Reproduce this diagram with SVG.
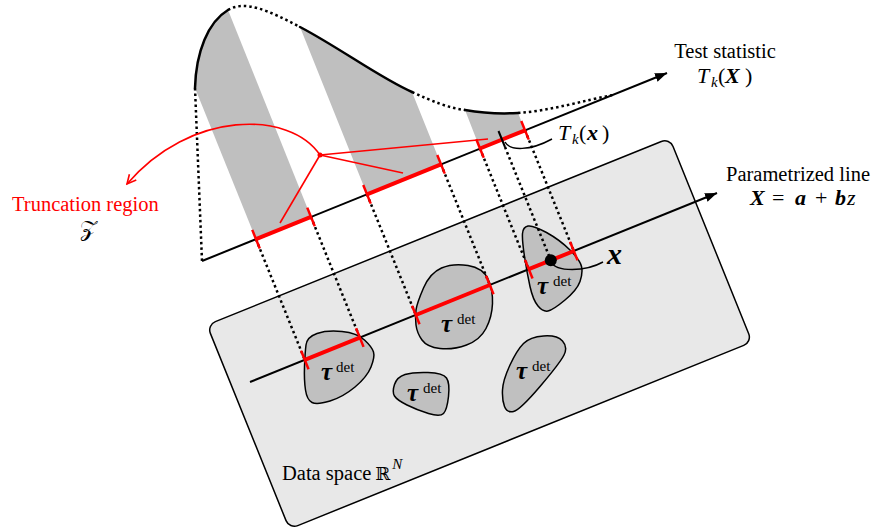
<svg xmlns="http://www.w3.org/2000/svg" width="883" height="531" viewBox="0 0 883 531" font-family="Liberation Serif, Times New Roman, serif">
<defs>
<style>
text, tspan{font-family:'Liberation Serif','Times New Roman','DejaVu Serif',serif;fill:#000}
.lbl{font-size:20.5px}
.m{font-size:22px}
.mi{font-style:italic}
.bi{font-style:italic;font-weight:bold}
.sub{font-size:15px;font-style:italic}
.red{fill:#ff0000}
.blob{fill:#c0c0c0;stroke:#000;stroke-width:1.5}
.band{fill:#bfbfbf;stroke:none}
.solid{fill:none;stroke:#000;stroke-width:2.5;stroke-linecap:round}
.dot{fill:none;stroke:#000;stroke-width:2.5;stroke-dasharray:2.5 3}
.axis{stroke:#000;stroke-width:2;fill:none}
.rseg{stroke:#ff0000;stroke-width:4}
.rtick{stroke:#ff0000;stroke-width:2.5}
.rline{stroke:#ff0000;stroke-width:1.6;fill:none}
.tau{font-size:25px;font-style:italic;font-weight:bold}
.det{font-size:15px}
</style>
<marker id="arr" markerUnits="userSpaceOnUse" markerWidth="14" markerHeight="10" refX="12" refY="4.5" orient="auto" viewBox="0 0 14 10"><path d="M0,0 L12,4.5 L0,9 Z" fill="#000"/></marker>
<marker id="rarr" markerUnits="userSpaceOnUse" markerWidth="12" markerHeight="12" refX="10" refY="5" orient="auto" viewBox="0 0 12 10"><path d="M1,0.5 L10,5 L1,9.5" fill="none" stroke="#ff0000" stroke-width="1.6"/></marker>
</defs>

<g id="data-space">
<rect x="0" y="0" width="499" height="220" rx="9" transform="translate(207,325) rotate(-22)" fill="#e8e8e8" stroke="#000" stroke-width="1.5"/>
<text class="lbl" x="282" y="480">Data space<tspan dx="4" style="font-family:'DejaVu Serif',serif" font-size="18px">ℝ</tspan><tspan dx="2" dy="-11" class="mi" font-size="15px">N</tspan></text>
</g>

<g id="blob-1">
<path class="blob" d="M317,333.5 Q327,330 342,331.5 Q357,333 364.5,340 Q372,347 373.5,352 Q375,357 371,367 Q367,377 355,387 Q343,397 330,401 Q317,405 312,402.5 Q307,400 305.5,390 Q304,380 304.5,366.5 Q305,353 306,345 Q307,337 317,333.5 Z"/>
<text x="321" y="380" class="tau">τ</text><text x="336" y="372" class="det">det</text>
</g>
<g id="blob-2">
<path class="blob" d="M423.5,288 Q430,273 441.5,268 Q453,263 468,265.5 Q483,268 488,279 Q493,290 492.5,303.5 Q492,317 486,328.5 Q480,340 466.5,345 Q453,350 440,348.5 Q427,347 422,340 Q417,333 416,325 Q415,317 416,310 Q417,303 423.5,288 Z"/>
<text x="441" y="332" class="tau">τ</text><text x="457" y="324" class="det">det</text>
</g>
<g id="blob-3">
<path class="blob" d="M405,374.5 Q413,372 428,372.5 Q443,373 446.5,378 Q450,383 448.5,396.5 Q447,410 443.5,413.5 Q440,417 428.5,413.5 Q417,410 407,405 Q397,400 394.5,396 Q392,392 394.5,384.5 Q397,377 405,374.5 Z"/>
<text x="407" y="401" class="tau">τ</text><text x="423" y="393" class="det">det</text>
</g>
<g id="blob-4">
<path class="blob" d="M543.5,336 Q557,335 562.5,341 Q568,347 564,355 Q560,363 540,386.5 Q520,410 513.5,411.5 Q507,413 504.5,406.5 Q502,400 502.5,390 Q503,380 510,365 Q517,350 523.5,343.5 Q530,337 543.5,336 Z"/>
<text x="516" y="379" class="tau">τ</text><text x="532" y="371" class="det">det</text>
</g>
<g id="blob-5">
<path class="blob" d="M528,226 Q533,225 546.5,232.5 Q560,240 570,250 Q580,260 581.5,266.5 Q583,273 580,281.5 Q577,290 565,300 Q553,310 548,311 Q543,312 538,306 Q533,300 530,286.5 Q527,273 524.5,256.5 Q522,240 522.5,233.5 Q523,227 528,226 Z"/>
<text x="537" y="294" class="tau">τ</text><text x="553" y="286" class="det">det</text>
</g>

<g id="density">
<path class="band" d="M195,88 L256,239.2 L311,216.9 L228,10 C208,22 196,52 195,88 Z"/>
<path class="band" d="M300,27 L367,194.3 L441,164.3 L412,92 C380,78 340,48 300,27 Z"/>
<path class="band" d="M465,110 L480,148.5 L525,130.3 L518,113 C500,114 482,113 465,110 Z"/>
<path class="solid" d="M195,88 C196,52 208,22 228,10"/>
<path class="dot" d="M228,10 C245,0 268,10 300,27"/>
<path class="solid" d="M300,27 C340,48 380,78 412,92"/>
<path class="dot" d="M412,92 C432,101 448,108 465,110"/>
<path class="solid" d="M465,110 C482,113 500,114 518,113"/>
<path class="dot" d="M518,113 C550,111 585,100 613,95"/>
</g>

<g id="connectors">
<path class="dot" d="M195,88 L202,261"/>
<path class="dot" d="M256,239.2 L304.8,359.9"/>
<path class="dot" d="M311,216.9 L359.8,337.6"/>
<path class="dot" d="M367,194.3 L415.8,315"/>
<path class="dot" d="M441,164.3 L489.8,285"/>
<path class="dot" d="M480,148.5 L528.8,269.2"/>
<path class="dot" d="M525,130.3 L573.8,251"/>
<path class="dot" d="M505,147 L550.8,260.3"/>
</g>

<g id="axis-param">
<line class="axis" x1="250" y1="382" x2="717" y2="193" marker-end="url(#arr)"/>
<line class="rseg" x1="304.8" y1="359.9" x2="359.8" y2="337.6"/>
<line class="rseg" x1="415.8" y1="315" x2="489.8" y2="285"/>
<line class="rseg" x1="528.8" y1="269.2" x2="573.8" y2="251"/>
<line class="rtick" x1="301.05" y1="350.6" x2="308.55" y2="369.2"/>
<line class="rtick" x1="356.05" y1="328.3" x2="363.55" y2="346.9"/>
<line class="rtick" x1="412.05" y1="305.7" x2="419.55" y2="324.3"/>
<line class="rtick" x1="486.05" y1="275.7" x2="493.55" y2="294.3"/>
<line class="rtick" x1="525.05" y1="259.9" x2="532.55" y2="278.5"/>
<line class="rtick" x1="570.05" y1="241.7" x2="577.55" y2="260.3"/>
<circle cx="550.8" cy="260.3" r="6" fill="#000"/>
<path d="M551,262 C556,272 585,272 603,262" fill="none" stroke="#000" stroke-width="1.5"/>
<text x="607" y="264" class="bi" font-size="30px">x</text>
<text class="lbl" x="798" y="181" text-anchor="middle">Parametrized line</text>
<text class="m" y="205"><tspan x="750" class="bi">X</tspan><tspan x="772">=</tspan><tspan x="795" class="bi">a</tspan><tspan x="815">+</tspan><tspan x="835" class="bi">b</tspan><tspan x="847" class="mi">z</tspan></text>
</g>

<g id="axis-test">
<line class="axis" x1="202" y1="261" x2="667" y2="73" marker-end="url(#arr)"/>
<line class="rseg" x1="256" y1="239.2" x2="311" y2="216.9"/>
<line class="rseg" x1="367" y1="194.3" x2="441" y2="164.3"/>
<line class="rseg" x1="480" y1="148.5" x2="525" y2="130.3"/>
<line class="rtick" x1="252.25" y1="229.9" x2="259.75" y2="248.5"/>
<line class="rtick" x1="307.25" y1="207.6" x2="314.75" y2="226.2"/>
<line class="rtick" x1="363.25" y1="185" x2="370.75" y2="203.6"/>
<line class="rtick" x1="437.25" y1="155" x2="444.75" y2="173.6"/>
<line class="rtick" x1="476.25" y1="139.2" x2="483.75" y2="157.8"/>
<line class="rtick" x1="521.25" y1="121" x2="528.75" y2="139.6"/>
<line x1="498.5" y1="131" x2="505" y2="147" stroke="#000" stroke-width="2"/>
<path d="M505,142 C510,151 530,151 552,139" fill="none" stroke="#000" stroke-width="1.5"/>
<text class="m" y="140"><tspan x="558" class="mi">T</tspan><tspan x="572" dy="4" class="sub">k</tspan><tspan x="579" dy="-4">(</tspan><tspan x="587" class="bi">x</tspan><tspan x="602">)</tspan></text>
<text class="lbl" x="725" y="58" text-anchor="middle">Test statistic</text>
<text class="m" y="83"><tspan x="697" class="mi">T</tspan><tspan x="711" dy="4" class="sub">k</tspan><tspan x="718" dy="-4">(</tspan><tspan x="725" class="bi">X</tspan><tspan x="745">)</tspan></text>
</g>

<g id="truncation-annotation">
<path class="rline" d="M320,155 C290,110 190,110 127,184" marker-end="url(#rarr)"/>
<path class="rline" d="M320,155 L280,223"/>
<path class="rline" d="M320,155 L403,173"/>
<path class="rline" d="M320,155 L488,139"/>
<circle cx="320" cy="155" r="2.5" fill="#ff0000"/>
<text class="lbl red" x="12" y="211" font-size="21px">Truncation region</text>
<text x="80" y="236" font-size="22px" style="font-family:'DejaVu Serif','DejaVu Sans',serif">𝒵</text>
</g>
</svg>
